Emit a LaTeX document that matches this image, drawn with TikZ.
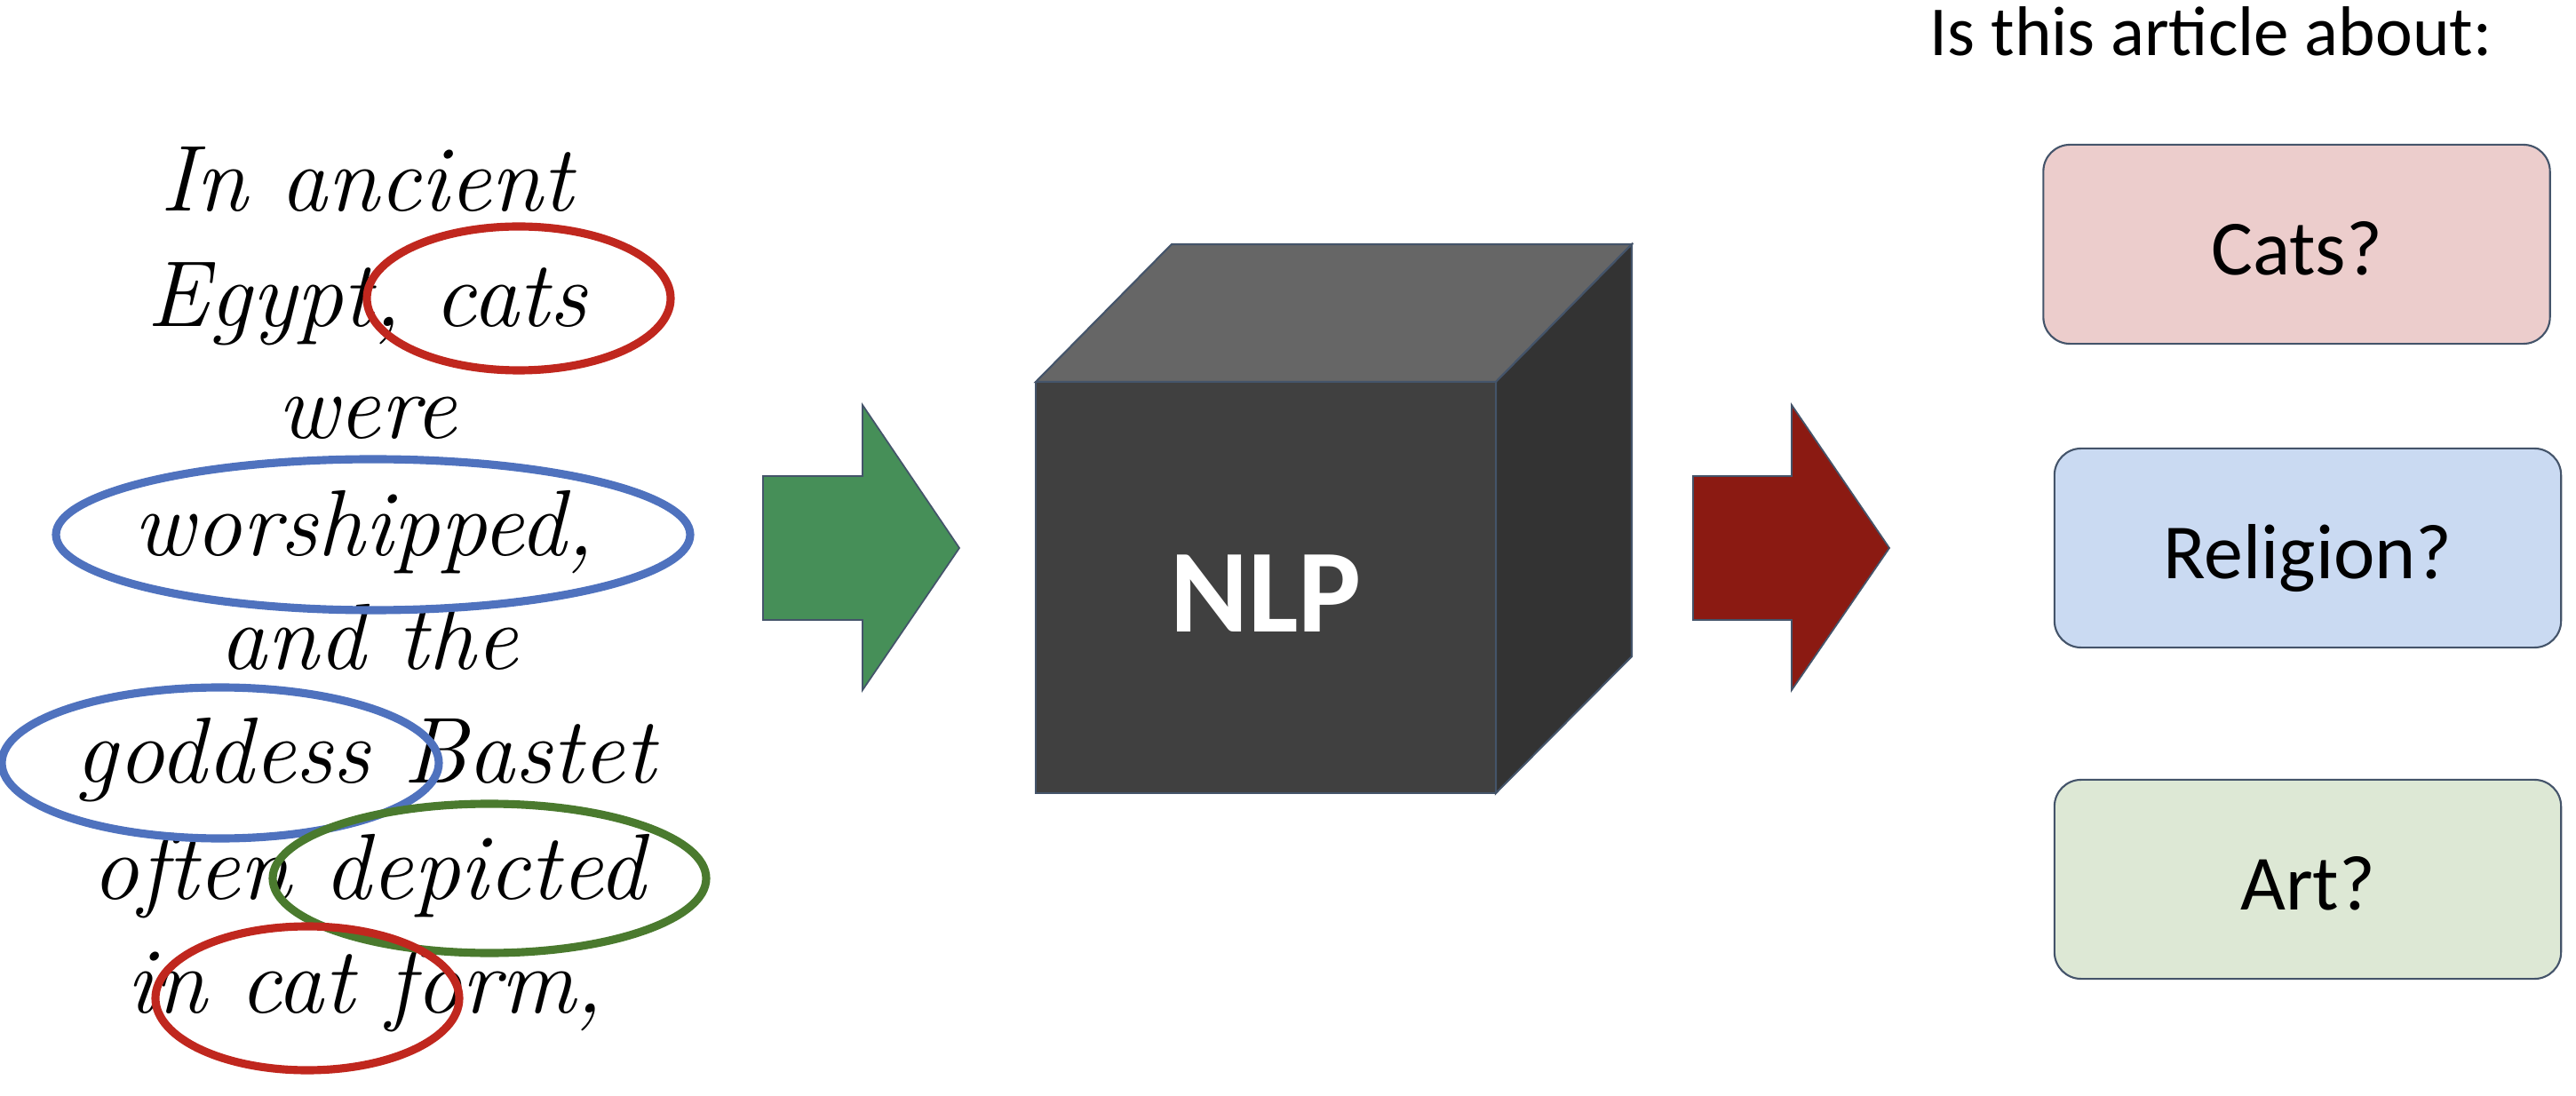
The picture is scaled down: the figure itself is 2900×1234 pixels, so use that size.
\documentclass[tikz,border=0pt]{standalone}
\usepackage{fontspec}
\newfontfamily\calibri{Carlito}
\definecolor{ringred}{HTML}{C0271E}
\definecolor{ringblue}{HTML}{4F72BE}
\definecolor{ringgreen}{HTML}{4A7A2E}
\definecolor{cubefront}{HTML}{404040}
\definecolor{cubetop}{HTML}{666666}
\definecolor{cubeside}{HTML}{333333}
\definecolor{edgegray}{HTML}{44546A}
\definecolor{arrowgreen}{HTML}{468F58}
\definecolor{arrowred}{HTML}{8B1A12}
\definecolor{catfill}{HTML}{ECCDCC}
\definecolor{religionfill}{HTML}{CADAF2}
\definecolor{artfill}{HTML}{DDE8D5}
\tikzstyle{wline}=[anchor=base, inner sep=0pt, font=\fontsize{30}{36}\selectfont\itshape]
\newcommand{\wline}{\node[wline]}
\tikzstyle{ring}=[line width=2.6pt]
\tikzstyle{blockarrow}=[draw=edgegray, line width=0.5pt]
\tikzstyle{topic}=[draw=edgegray, line width=0.6pt, rounded corners=0.3cm, minimum width=5.7cm, minimum height=2.24cm, text height=0.68cm, text depth=0pt, font=\calibri\fontsize{25}{30}\selectfont]
\newcommand{\topic}{\node[topic]}

\begin{document}
\begin{tikzpicture}[x=0.01cm, y=-0.01cm]
\useasboundingbox (0,0) rectangle (2900,1234);
% the article
\wline (t1) at (413,238) {In ancient};
\wline (t2) at (413,368) {Egypt, cats};
\wline (t3) at (413,494) {were};
\wline (t4) at (410,626) {worshipped,};
\wline (t5) at (415,754) {and the};
\wline (t6) at (411,881) {goddess Bastet};
\wline (t7) at (415,1012) {often depicted};
\wline (t8) at (411,1140) {in cat form,};
\draw[ring, draw=ringred] (584,336) ellipse [x radius=171, y radius=81];
\draw[ring, draw=ringblue] (420,602) ellipse [x radius=357, y radius=85];
\draw[ring, draw=ringblue] (248,859) ellipse [x radius=246, y radius=85];
\draw[ring, draw=ringgreen] (551,989) ellipse [x radius=244, y radius=84];
\draw[ring, draw=ringred] (346,1124) ellipse [x radius=171, y radius=81];
% the box
\filldraw[fill=cubetop, draw=edgegray, line width=0.6pt] (1166,430) -- (1319,275) -- (1837,275) -- (1684,430) -- cycle;
\filldraw[fill=cubeside, draw=edgegray, line width=0.6pt] (1684,430) -- (1837,275) -- (1837,739) -- (1684,893) -- cycle;
\node[fill=cubefront, draw=edgegray, line width=0.6pt, minimum width=5.18cm, minimum height=4.63cm, text height=0.99cm, text depth=0pt, text=white, font=\calibri\bfseries\fontsize{38}{45}\selectfont] (nlp) at (1425,661.5) {NLP};
\filldraw[blockarrow, fill=arrowgreen] (859,536) -- (971,536) -- (971,456) -- (1080,617) -- (971,777) -- (971,698) -- (859,698) -- cycle;
\filldraw[blockarrow, fill=arrowred] (1906,536) -- (2017,536) -- (2017,456) -- (2127,617) -- (2017,777) -- (2017,698) -- (1906,698) -- cycle;
% the answers
\node[anchor=base west, inner sep=0pt, font=\calibri\fontsize{22.5}{27}\selectfont] (ask) at (2172,63) {Is this article about:};
\topic[fill=catfill] (cats) at (2585.5,275) {Cats?};
\topic[fill=religionfill] (religion) at (2598,617) {Religion?};
\topic[fill=artfill] (art) at (2598,990) {Art?};
\end{tikzpicture}
\end{document}
